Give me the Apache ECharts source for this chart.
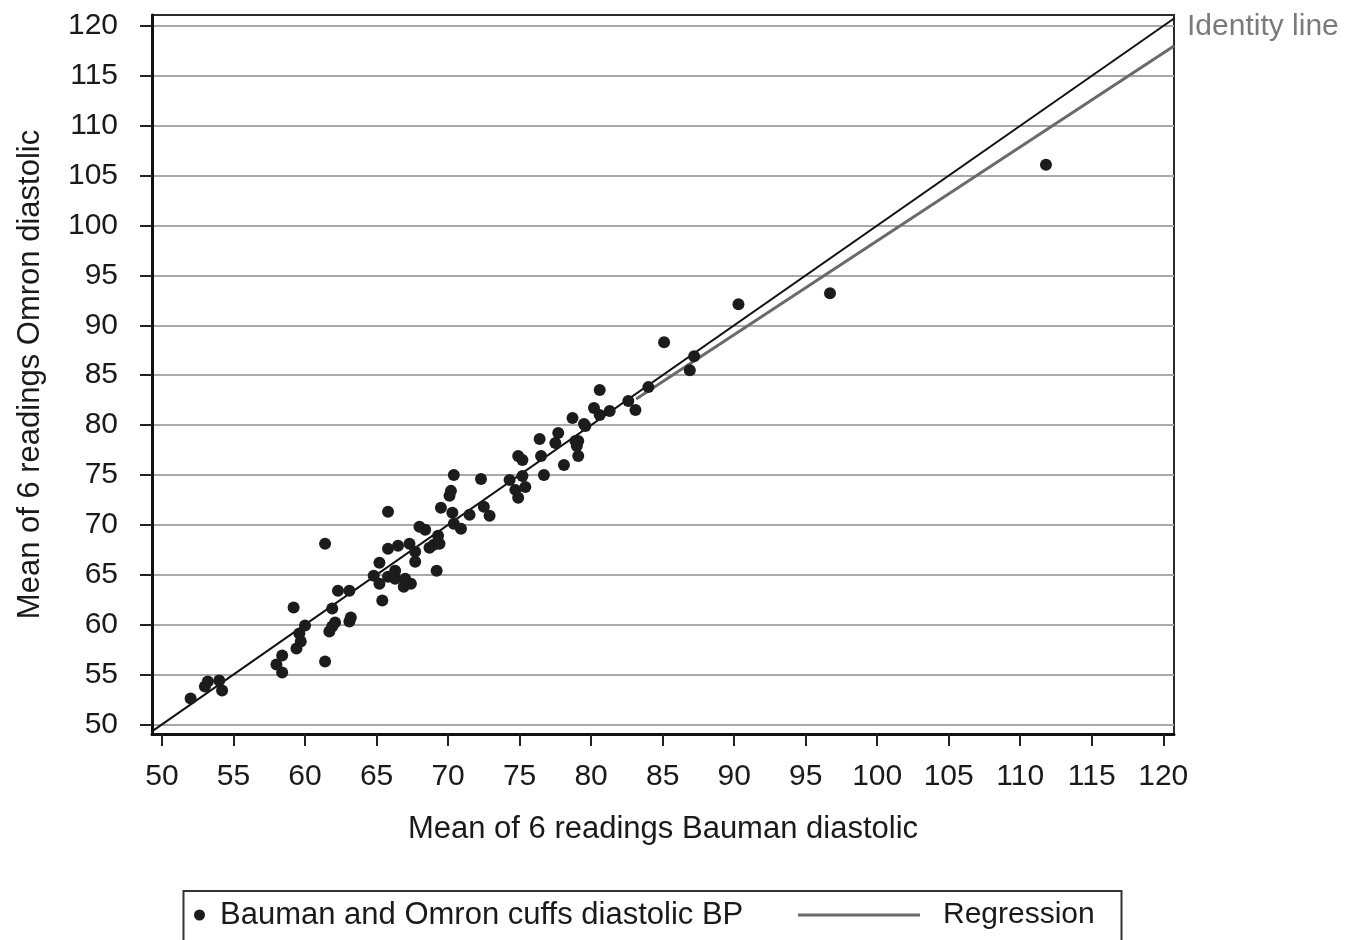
<!DOCTYPE html>
<html>
<head>
<meta charset="utf-8">
<title>Bauman vs Omron diastolic</title>
<script src="https://cdn.jsdelivr.net/npm/echarts@6/dist/echarts.min.js"></script>
<style>
  html, body { margin: 0; padding: 0; background: #fff; }
  #chart { width: 1360px; height: 940px; }
</style>
</head>
<body>
<div id="chart"></div>
<script>
// 刻度
const xTicks = [50, 55, 60, 65, 70, 75, 80, 85, 90, 95, 100, 105, 110, 115, 120];
const yTicks = [50, 55, 60, 65, 70, 75, 80, 85, 90, 95, 100, 105, 110, 115, 120];

// Bauman (x) / Omron (y) 平均舒张压
const cuffPoints = [
  [52.0, 52.6], [53.0, 53.8], [53.2, 54.3], [54.0, 54.4], [54.2, 53.4],
  [58.0, 56.0], [58.4, 56.9], [58.4, 55.2], [59.2, 61.7], [59.4, 57.6],
  [59.7, 58.3], [59.6, 59.1], [60.0, 59.9], [61.4, 68.1], [61.4, 56.3],
  [61.7, 59.3], [61.9, 59.8], [62.1, 60.2], [61.9, 61.6], [62.3, 63.4],
  [63.1, 63.4], [63.1, 60.3], [63.2, 60.7], [65.8, 71.3], [64.8, 64.9],
  [65.2, 66.2], [65.8, 67.6], [66.5, 67.9], [67.3, 68.1], [65.2, 64.1],
  [65.4, 62.4], [65.8, 64.8], [66.3, 65.4], [66.3, 64.6], [67.0, 64.6],
  [66.9, 63.8], [67.4, 64.1], [67.7, 67.3], [67.7, 66.3], [69.2, 65.4],
  [68.0, 69.8], [68.4, 69.5], [68.7, 67.7], [69.0, 68.0], [69.4, 68.1],
  [69.3, 68.9], [69.5, 71.7], [70.1, 72.9], [70.2, 73.4], [70.4, 75.0],
  [70.3, 71.2], [70.4, 70.1], [70.9, 69.6], [71.5, 71.0], [72.3, 74.6],
  [72.5, 71.8], [72.9, 70.9], [74.3, 74.5], [74.7, 73.5], [74.9, 72.7],
  [75.4, 73.8], [75.2, 74.9], [74.9, 76.9], [75.2, 76.5], [76.4, 78.6],
  [76.5, 76.9], [76.7, 75.0], [77.5, 78.2], [77.7, 79.2], [78.7, 80.7],
  [79.5, 80.1], [79.6, 79.9], [78.9, 78.4], [79.1, 78.4], [79.0, 77.9],
  [79.1, 76.9], [78.1, 76.0], [80.2, 81.7], [80.6, 81.0], [81.3, 81.4],
  [80.6, 83.5], [82.6, 82.4], [83.1, 81.5], [84.0, 83.8], [85.1, 88.3],
  [87.2, 86.9], [86.9, 85.5], [90.3, 92.1], [96.7, 93.2], [111.8, 106.1]
];

// 恒等线 y = x, 回归线
const identityLine = [[49.3, 49.3], [120.75, 120.75]];
const regressionLine = [[83.15, 82.6], [120.75, 118.0]];

const font = "'Liberation Sans', Arial, sans-serif";

const options = {
  animation: false,
  textStyle: { fontFamily: font },
  grid: {
    left: 152,
    top: 15,
    right: 186,
    bottom: 206,
    show: true,
    borderColor: "#2a2a2a",
    borderWidth: 2,
  },
  legend: [
    {
      data: ["Bauman and Omron cuffs diastolic BP"],
      left: 194,
      top: 898,
      padding: 0,
      icon: "circle",
      itemWidth: 31,
      itemHeight: 11,
      textStyle: { fontSize: 31, color: "#1a1a1a", lineHeight: 34, fontFamily: font },
    },
    {
      data: ["Regression"],
      left: 798,
      top: 898,
      padding: 0,
      icon: "rect",
      itemWidth: 122,
      itemHeight: 3,
      itemStyle: { color: "#6a6a6a" },
      textStyle: { fontSize: 30, color: "#1a1a1a", lineHeight: 34, padding: [0, 0, 0, 18], fontFamily: font },
    },
  ],
  graphic: [
    {
      // 图例外框 (底边被裁掉)
      type: "rect",
      shape: { x: 183.5, y: 891, width: 938, height: 70 },
      style: { fill: "none", stroke: "#333", lineWidth: 2 },
      silent: true,
    },
  ],
  xAxis: {
    type: "value",
    min: 49.3,
    max: 120.75,
    name: "Mean of 6 readings Bauman diastolic",
    nameLocation: "middle",
    nameGap: 80,
    nameTextStyle: { fontSize: 31, color: "#1a1a1a", fontFamily: font },
    axisLine: { show: true, lineStyle: { color: "#111", width: 3 } },
    axisTick: {
      show: true,
      length: 12,
      customValues: xTicks,
      lineStyle: { color: "#222", width: 2 },
    },
    axisLabel: {
      customValues: xTicks,
      fontSize: 30,
      color: "#1a1a1a",
      margin: 28,
      fontFamily: font,
    },
    splitLine: { show: false },
  },
  yAxis: {
    type: "value",
    min: 49.03,
    max: 121.1,
    name: "Mean of 6 readings Omron diastolic",
    nameLocation: "middle",
    nameRotate: 90,
    nameGap: 106,
    nameTextStyle: { fontSize: 31, color: "#1a1a1a", fontFamily: font },
    axisLine: { show: true, lineStyle: { color: "#111", width: 3 } },
    axisTick: {
      show: true,
      length: 12,
      customValues: yTicks,
      lineStyle: { color: "#222", width: 2 },
    },
    axisLabel: {
      customValues: yTicks,
      fontSize: 30,
      color: "#1a1a1a",
      margin: 34,
      fontFamily: font,
    },
    splitLine: {
      show: true,
      lineStyle: { color: "#a9a9a9", width: 2 },
    },
  },
  series: [
    {
      name: "Bauman and Omron cuffs diastolic BP",
      type: "scatter",
      data: cuffPoints,
      symbolSize: 12,
      itemStyle: { color: "#1c1c1c", opacity: 1 },
      z: 5,
    },
    {
      name: "Regression",
      type: "line",
      data: regressionLine,
      symbol: "none",
      clip: false,
      lineStyle: { color: "#6a6a6a", width: 3 },
      z: 3,
    },
    {
      name: "Identity line",
      type: "line",
      data: identityLine,
      symbol: "none",
      clip: false,
      lineStyle: { color: "#111", width: 2 },
      endLabel: {
        show: true,
        formatter: "Identity line",
        color: "#7a7a7a",
        fontSize: 30,
        distance: 13,
        offset: [0, 8],
        fontFamily: font,
      },
      z: 4,
    },
  ],
};

const chart = echarts.init(document.getElementById("chart"));
chart.setOption(options);

window.addEventListener("resize", () => {
  chart.resize();
});
</script>
</body>
</html>
